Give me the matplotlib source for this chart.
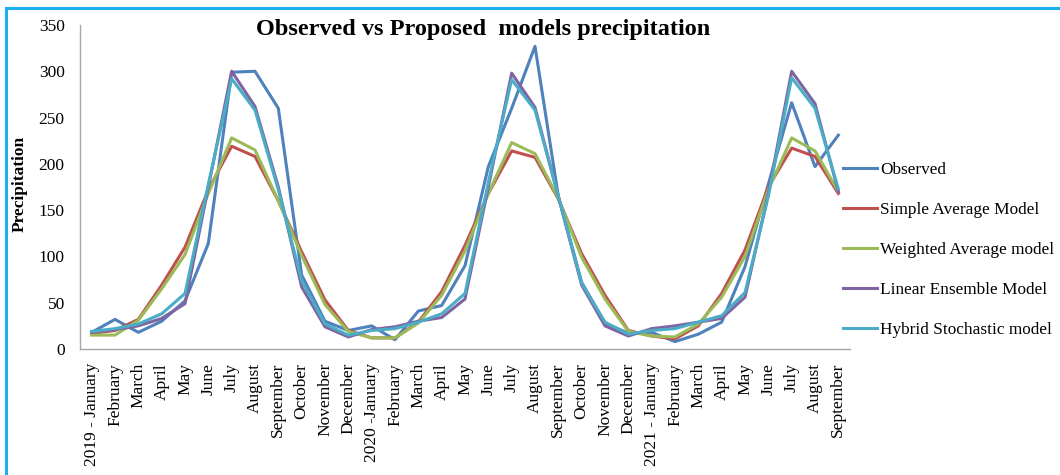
import matplotlib
matplotlib.use("Agg")
import matplotlib.pyplot as plt
from matplotlib.patches import Rectangle

plt.rcParams["font.family"] = ["Liberation Serif", "DejaVu Serif"]

months = ["January", "February", "March", "April", "May", "June", "July",
          "August", "September", "October", "November", "December"]
labels = (["2019 - January"] + months[1:]
          + ["2020 -January"] + months[1:]
          + ["2021 - January"] + months[1:9])

observed = [18, 32, 18, 30, 52, 114, 299, 300, 260, 80, 30, 20,
            25, 10, 41, 47, 90, 197, 260, 327, 165, 72, 28, 17,
            18, 8, 16, 29, 89, 178, 266, 197, 231]
simple_avg = [17, 20, 32, 69, 110, 172, 219, 208, 160, 105, 53, 20,
              12, 12, 29, 62, 112, 168, 214, 207, 162, 103, 58, 20,
              14, 11, 25, 60, 107, 175, 217, 208, 168]
weighted_avg = [15, 15, 31, 65, 102, 168, 228, 215, 160, 101, 48, 19,
                12, 12, 28, 58, 106, 168, 223, 211, 163, 99, 54, 19,
                14, 13, 27, 56, 100, 172, 228, 214, 170]
linear_ens = [18, 21, 25, 33, 49, 175, 300, 262, 175, 67, 24, 13,
              21, 24, 30, 34, 54, 175, 298, 261, 165, 69, 25, 14,
              22, 25, 29, 33, 56, 168, 300, 265, 170]
hybrid = [19, 22, 27, 38, 60, 178, 292, 258, 172, 74, 27, 15,
          20, 22, 29, 38, 60, 180, 291, 258, 165, 71, 29, 16,
          20, 22, 29, 36, 61, 165, 293, 260, 173]

series = [
    ("Observed", observed, "#4F81BD"),
    ("Simple Average Model", simple_avg, "#C0504D"),
    ("Weighted Average model", weighted_avg, "#9BBB59"),
    ("Linear Ensemble Model", linear_ens, "#8064A2"),
    ("Hybrid Stochastic model", hybrid, "#4BACC6"),
]

fig = plt.figure(figsize=(10.6, 4.75), dpi=100)
ax = fig.add_axes([80 / 1060, 1 - 349 / 475, 770 / 1060, 324 / 475])

x = list(range(len(labels)))
for name, vals, color in series:
    ax.plot(x, vals, color=color, linewidth=2.2, label=name)

ax.set_xlim(-0.5, len(labels) - 0.5)
ax.set_ylim(0, 350)
ax.set_yticks(range(0, 351, 50))
ax.set_xticks(x)
ax.set_xticklabels(labels, rotation=90)
ax.tick_params(axis="both", length=0, labelsize=12.5)
ax.tick_params(axis="y", pad=11)
ax.tick_params(axis="x", pad=10)
for s in ["top", "right"]:
    ax.spines[s].set_visible(False)
for s in ["left", "bottom"]:
    ax.spines[s].set_color("#A6A6A6")
    ax.spines[s].set_linewidth(1.0)

ax.set_ylabel("Precipitation", fontsize=12.5, fontweight="bold")
ax.yaxis.set_label_coords(-0.0675, 0.51)
fig.text(483 / 1060, 1 - 30 / 475, "Observed vs Proposed  models precipitation",
         ha="center", va="center", fontsize=17.5, fontweight="bold")

# legend sits at the right edge, as in the original
fig.legend(loc="center left", bbox_to_anchor=(843 / 1060, 1 - 250 / 475),
           frameon=False, fontsize=12.4, labelspacing=1.4, handlelength=1.95,
           handletextpad=0.2, borderpad=0, borderaxespad=0)

fig.patches.append(Rectangle((6 / 1060, -0.1), 1.2, 1 - 8 / 475 + 0.1,
                             transform=fig.transFigure, fill=False,
                             edgecolor="#1AB0EF", linewidth=2.2))

fig.savefig("out.png", dpi=100)
